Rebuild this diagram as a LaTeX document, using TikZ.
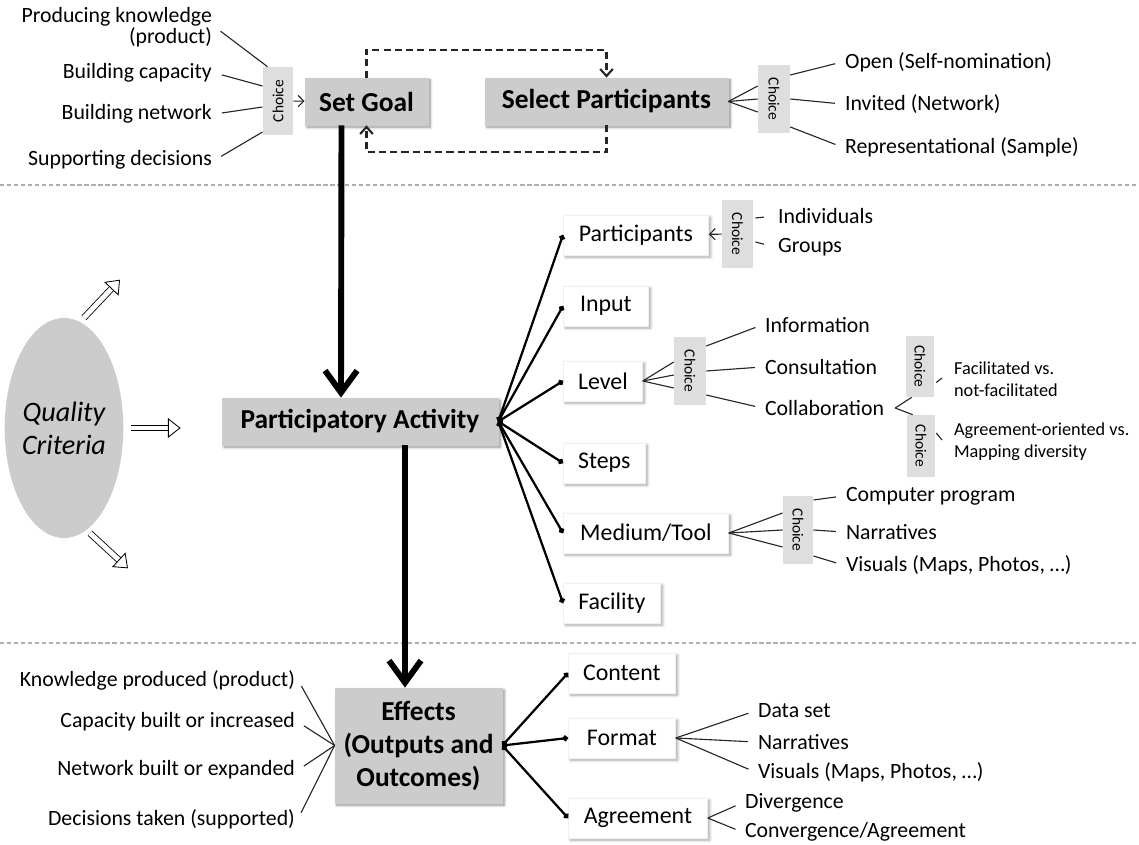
\documentclass[tikz,border=0pt]{standalone}
\usepackage{fontspec}
\setmainfont{Carlito}
\usetikzlibrary{positioning,calc,shadows,shadows.blur,shapes.geometric}
\usetikzlibrary{arrows.meta}
\definecolor{BoxGray}{RGB}{204,204,204}
\definecolor{ChoiceGray}{RGB}{222,222,222}
\definecolor{RuleGray}{RGB}{175,175,175}
\newcommand\chv{\rotatebox{-90}{Choice}}
\tikzset{
  stage/.style={draw=black!20,fill=BoxGray,font=\fontsize{19.5}{23.5}\selectfont\bfseries,align=center,
    minimum height=1.18cm,blur shadow={shadow blur steps=6,shadow xshift=1.5pt,shadow yshift=-1.5pt,shadow opacity=45}},
  sub/.style={draw=black!6,fill=white,font=\fontsize{17}{20}\selectfont,anchor=west,minimum height=1cm,
    blur shadow={shadow blur steps=6,shadow xshift=1.5pt,shadow yshift=-1.5pt,shadow opacity=35}},
  choice/.style={fill=ChoiceGray,inner sep=0pt,minimum width=.76cm,minimum height=1.7cm,font=\fontsize{11}{12}\selectfont},
  leaf/.style={inner sep=2pt,font=\fontsize{15.5}{15}\selectfont,anchor=west},
  twig/.style={draw=black!85,line width=.8pt},
  branch/.style={draw=black,line width=1.6pt,{Circle[length=4pt]}-{Circle[length=4pt]}},
  flow/.style={draw=black,line width=4.2pt,-{Straight Barb[length=.55cm,width=.8cm]}},
  loopback/.style={draw=black!85,line width=1.5pt,dash pattern=on 5pt off 3pt,-{Straight Barb[length=5pt,width=9pt]}},
  hollow/.style={double=white,double distance=3.5pt,line width=.6pt,-{Triangle[open,fill=white,length=9pt,width=14pt,line width=.6pt]}},
  divider/.style={draw=RuleGray,line width=.8pt,dash pattern=on 3pt off 2pt},
}
\begin{document}
\begin{tikzpicture}[x=0.025cm,y=-0.025cm]
\useasboundingbox (0,0) rectangle (1139,845);
\draw[divider] (0,185) -- (1139,185); \draw[divider] (0,643) -- (1139,643);
% goal and participants
\node[stage,minimum width=3.08cm](sg) at (366.5,101.5){Set Goal};
\node[stage,minimum width=6.08cm](sp) at (606.5,101.5){Select Participants};
\node[choice](cg) at (278,101){\rotatebox{90}{Choice}};
\node[choice,minimum width=.8cm](cs) at (774,99){\chv};
\node[leaf,anchor=east,align=right](pk) at (215,27){Producing knowledge\\(product)};
\node[leaf,anchor=east](bc) at (215,73){Building capacity};
\node[leaf,anchor=east](bn) at (215,114){Building network};
\node[leaf,anchor=east](sd) at (215,160){Supporting decisions};
\draw[twig,shorten <=5pt] (pk.east) -- ($(cg.north west)+(5,0)$);
\draw[twig,shorten <=5pt] (bc.east) -- ($(cg.west)+(0,-15)$);
\draw[twig,shorten <=5pt] (bn.east) -- ($(cg.west)+(0,6)$);
\draw[twig,shorten <=5pt] (sd.east) -- ($(cg.west)+(0,31)$);
\draw[twig,-{Straight Barb[length=4pt,width=8pt]}] (cg) -- (sg);
\node[leaf](op) at (842,62){Open (Self-nomination)};
\node[leaf](iv) at (842,104){Invited (Network)};
\node[leaf](rp) at (842,147){Representational (Sample)};
\foreach \d in {-13,0,13} \draw[twig] (sp.east) -- ($(cs.west)+(0,\d)$);
\draw[twig,shorten >=5pt] ($(cs.east)+(0,-24)$) -- (op.west);
\draw[twig,shorten >=5pt] (cs.east) -- (iv.west);
\draw[twig,shorten >=5pt] ($(cs.east)+(0,28)$) -- (rp.west);
\draw[loopback] (sg.north) -- ++(0,-28) -| (sp.north);
\draw[loopback] (sp.south) -- ++(0,27) -| (sg.south);
% activity
\node[ellipse,fill=BoxGray,minimum width=2.7cm,minimum height=5.5cm,inner sep=0pt,align=center,
  font=\fontsize{20}{23.5}\selectfont\itshape](qc) at (64,428){Quality\\Criteria};
\draw[hollow] ($(qc.north)+(20,0)$) -- ++(36,-38);
\draw[hollow] ($(qc.east)+(7,0)$) -- ++(50,0);
\draw[hollow] ($(qc.south)+(26,-5)$) -- ++(38,35);
\node[stage,minimum width=6.9cm](pa) at (360,421.5){Participatory Activity};
\node[sub,minimum width=3.63cm](part) at (563,235){Participants};
\node[sub,minimum width=2.13cm](inp) at (563,306){Input};
\node[sub,minimum width=1.98cm](lvl) at (563,381){Level};
\node[sub,minimum width=2.05cm](stp) at (563,463){Steps};
\node[sub,minimum width=4.13cm](med) at (563,533){Medium/Tool};
\node[sub,minimum width=2.43cm](fac) at (563,603){Facility};
\foreach \n in {part,inp,lvl,stp,med,fac} \draw[branch] (pa.east) -- (\n.west);
\node[choice,minimum width=.78cm](cp) at (737.5,234){\chv};
\node[leaf](ind) at (775,216){Individuals};
\node[leaf](grp) at (775,247){Groups};
\draw[twig,-{Straight Barb[length=4pt,width=8pt]}] (cp) -- (part);
\draw[twig,shorten >=8pt] ($(cp.east)+(2,-16)$) -- (ind.west);
\draw[twig,shorten >=8pt] ($(cp.east)+(2,8)$) -- (grp.west);
\node[choice,minimum width=.8cm](cl) at (690,371){\chv};
\node[leaf](inf) at (762,325){Information};
\node[leaf](cns) at (762,367){Consultation};
\node[leaf](col) at (762,408){Collaboration};
\foreach \d in {-9,4,17} \draw[twig] (lvl.east) -- ($(cl.west)+(0,\d)$);
\draw[twig,shorten >=5pt] ($(cl.east)+(0,-25)$) -- (inf.west);
\draw[twig,shorten >=5pt] (cl.east) -- (cns.west);
\draw[twig,shorten >=5pt] ($(cl.east)+(0,24)$) -- (col.west);
\node[choice,minimum width=.7cm,minimum height=1.53cm](cf) at (920,366.5){\chv};
\node[choice,minimum width=.7cm,minimum height=1.55cm](cm) at (921,446){\chv};
\node[leaf,align=left,font=\fontsize{13}{15.6}\selectfont](fv) at (951,379){Facilitated vs.\\not-facilitated};
\node[leaf,align=left,font=\fontsize{13}{15.6}\selectfont](am) at (951,442){Agreement-oriented vs.\\Mapping diversity};
\draw[twig] ($(col.east)+(8,0)$) -- ($(cf.south west)+(6,0)$);
\draw[twig] ($(col.east)+(8,0)$) -- ($(cm.north west)+(6,0)$);
\draw[twig] ($(cf.east)+(2,16)$) -- ($(fv.west)+(-9,-1)$);
\draw[twig] ($(cm.east)+(1,-13)$) -- ($(am.west)+(-9,-2)$);
\node[choice](ct) at (798,530){\chv};
\node[leaf](cpg) at (843,496){Computer program};
\node[leaf](nr1) at (843,532){Narratives};
\node[leaf](vs1) at (843,565){Visuals (Maps, Photos, …)};
\foreach \d in {-17,0,17} \draw[twig] (med.east) -- ($(ct.west)+(0,\d)$);
\draw[twig,shorten >=5pt] ($(ct.east)+(0,-30)$) -- (cpg.west);
\draw[twig,shorten >=5pt] (ct.east) -- (nr1.west);
\draw[twig,shorten >=5pt] ($(ct.east)+(0,26)$) -- (vs1.west);
% effects
\node[stage,minimum width=4.18cm,minimum height=2.88cm](eff) at (418.5,745.5){Effects\\(Outputs and\\Outcomes)};
\node[leaf,anchor=east](kp) at (298,680){Knowledge produced (product)};
\node[leaf,anchor=east](cb) at (298,722){Capacity built or increased};
\node[leaf,anchor=east](nb) at (298,770){Network built or expanded};
\node[leaf,anchor=east](dt) at (298,819){Decisions taken (supported)};
\foreach \n in {kp,cb,nb,dt} \draw[twig,shorten <=5pt] (\n.east) -- (eff.west);
\node[sub,minimum width=2.68cm](cnt) at (568,673){Content};
\node[sub,minimum width=2.68cm](fmt) at (568,738){Format};
\node[sub,minimum width=3.48cm](agr) at (568,818){Agreement};
\foreach \n in {cnt,fmt,agr} \draw[branch] (eff.east) -- (\n.west);
\node[leaf](dset) at (755,711){Data set};
\node[leaf](nr2) at (755,742){Narratives};
\node[leaf](vs2) at (755,772){Visuals (Maps, Photos, …)};
\foreach \n in {dset,nr2,vs2} \draw[twig,shorten >=5pt] (fmt.east) -- (\n.west);
\node[leaf](dvg) at (742,803){Divergence};
\node[leaf](cvg) at (742,832){Convergence/Agreement};
\foreach \n in {dvg,cvg} \draw[twig,shorten >=5pt] (agr.east) -- (\n.west);
\draw[flow] ($(sg.south)+(-25,0)$) -- ($(pa.north)+(-19,0)$);
\draw[flow] ($(pa.south)+(45,0)$) -- ($(eff.north)+(-13.5,0)$);
\end{tikzpicture}
\end{document}
